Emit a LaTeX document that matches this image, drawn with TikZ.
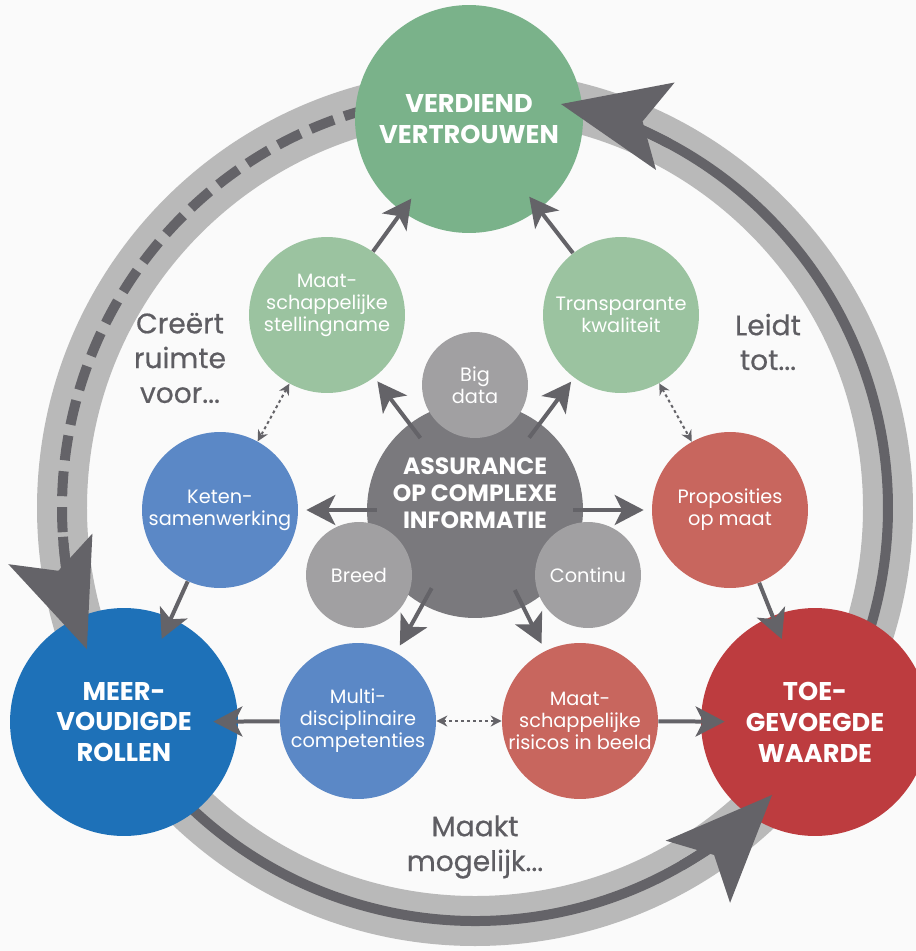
\documentclass[tikz,border=0pt]{standalone}
\usepackage{fontspec}
\setmainfont{Poppins}
\newfontfamily\sidefont{Poppins}[FakeBold=0.5]
\usetikzlibrary{shapes, arrows.meta, positioning}

\definecolor{backdrop}{HTML}{FAFAFA}
\definecolor{ringgray}{HTML}{B9B9B9}
\definecolor{arrowgray}{HTML}{646368}
\definecolor{labelgray}{HTML}{5E5D62}
\definecolor{hubgray}{HTML}{7A797D}
\definecolor{facetgray}{HTML}{A1A0A2}
\definecolor{goalgreen}{HTML}{7AB28A}
\definecolor{subgreen}{HTML}{9BC3A0}
\definecolor{goalblue}{HTML}{1E71B8}
\definecolor{subblue}{HTML}{5B88C6}
\definecolor{goalred}{HTML}{BD3C3F}
\definecolor{subred}{HTML}{C8665E}

\tikzstyle{bubble} = [circle, inner sep=0pt, text=white, align=center]
\tikzstyle{goal} = [bubble, minimum size=4.56cm, font=\bfseries\fontsize{14.6pt}{17.6pt}\selectfont]
\tikzstyle{sub} = [bubble, minimum size=3.12cm, font=\fontsize{11pt}{12.5pt}\selectfont]
\tikzstyle{facet} = [bubble, fill=facetgray, minimum size=2.12cm, font=\fontsize{11pt}{12.5pt}\selectfont]
\tikzstyle{hub} = [bubble, fill=hubgray, minimum size=4.32cm]
\tikzstyle{hubtext} = [text=white, align=center, font=\bfseries\fontsize{13.4pt}{15.3pt}\selectfont]
\tikzstyle{sidetext} = [text=labelgray, align=center, font=\sidefont\fontsize{16pt}{19.8pt}\selectfont]
\tikzstyle{arrow} = [draw, arrowgray, line width=0.08cm, -{Stealth[length=0.58cm, width=0.6cm, inset=0.15cm]}]
\tikzstyle{dotlink} = [draw, arrowgray, line width=0.04cm, dash pattern=on 0.06cm off 0.06cm,
    {Stealth[length=0.22cm, width=0.22cm]}-{Stealth[length=0.22cm, width=0.22cm]}]
\tikzstyle{loopline} = [draw, arrowgray, line width=0.2cm, line cap=butt]
\tikzstyle{loophead} = [loopline, -{Stealth[length=2.12cm, width=1.76cm, inset=0.45cm]}]

\begin{document}
\begin{tikzpicture}[x=0.02cm, y=0.02cm]
    \useasboundingbox (0,0) rectangle (916,-951);
    \clip (0,0) rectangle (916,-951);
    \fill[backdrop] (0,0) rectangle (916,-951);

    % outer ring, arcs run behind the big circles
    \coordinate (ringc) at (475,-508);
    \draw[ringgray, line width=1cm] (ringc) circle[radius=413];
    \path[loopline, dash pattern=on 0.5cm off 0.22cm] (ringc) ++(95:413) arc[start angle=95, end angle=188, radius=413];
    \path[loopline] (ringc) ++(215:413) arc[start angle=215, end angle=304, radius=413];
    \path[loopline] (ringc) ++(-30:413) arc[start angle=-30, end angle=66, radius=413];

    % big circles
    \node[goal, fill=goalgreen] (verdiend) at (469,-119) {VERDIEND\\VERTROUWEN};
    \node[goal, fill=goalblue] (rollen) at (124,-722) {MEER-\\VOUDIGDE\\ROLLEN};
    \node[goal, fill=goalred] (waarde) at (815,-722) {TOE-\\GEVOEGDE\\WAARDE};

    % heads of the ring arrows lie on top of the circles
    \path[loophead] (ringc) ++(184:413) arc[start angle=184, end angle=200, radius=413];
    \path[loophead] (ringc) ++(300:413) arc[start angle=300, end angle=316, radius=413];
    \path[loophead] (ringc) ++(62:413) arc[start angle=62, end angle=78, radius=413];

    % middle ring
    \node[sub, fill=subgreen] (stelling) at (327,-315) {Maat-\\schappelijke\\stellingname\\[-2pt]\strut};
    \node[sub, fill=subgreen] (kwaliteit) at (621,-315) {Transparante\\kwaliteit};
    \node[sub, fill=subblue] (keten) at (220,-510) {Keten-\\samenwerking};
    \node[sub, fill=subred] (proposities) at (730,-510) {Proposities\\op maat};
    \node[sub, fill=subblue] (competenties) at (358,-721) {Multi-\\disciplinaire\\competenties};
    \node[sub, fill=subred] (risicos) at (580,-721) {Maat-\\schappelijke\\risicos in beeld};

    % centre
    \node[hub] (hub) at (475,-510) {};
    \node[hubtext] (hubtxt) at (475,-493) {ASSURANCE\\OP COMPLEXE\\INFORMATIE};
    \node[facet] (bigdata) at (475,-385) {Big\\data};
    \node[facet] (breed) at (359,-575) {Breed};
    \node[facet] (continu) at (588,-575) {Continu};

    % loop labels
    \node[sidetext] (creeert) at (180,-358) {Creërt\\ruimte\\voor...};
    \node[sidetext] (leidt) at (768,-342) {Leidt\\tot...};
    \node[sidetext] (maakt) at (475,-847) {Maakt\\mogelijk...};

    % arrows
    \path[arrow, shorten <=-0.36cm, shorten >=0.1cm] (hub) -- (stelling);
    \path[arrow, shorten <=-0.36cm, shorten >=0.1cm] (hub) -- (kwaliteit);
    \path[arrow, shorten <=-0.2cm, shorten >=0.16cm] (hub) -- (keten);
    \path[arrow, shorten <=-0.2cm, shorten >=0.16cm] (hub) -- (proposities);
    \path[arrow, shorten <=-0.38cm, shorten >=0.16cm] (hub) -- (competenties);
    \path[arrow, shorten <=-0.38cm, shorten >=0.16cm] (hub) -- (risicos);

    \path[arrow, shorten >=-0.32cm] (stelling) -- (verdiend);
    \path[arrow, shorten >=-0.32cm] (kwaliteit) -- (verdiend);
    \path[arrow, shorten >=-0.46cm] (keten) -- (rollen);
    \path[arrow, shorten >=-0.5cm] (competenties) -- (rollen);
    \path[arrow, shorten >=-0.5cm] (proposities) -- (waarde);
    \path[arrow, shorten >=-0.48cm] (risicos) -- (waarde);

    \path[dotlink] (stelling) -- (keten);
    \path[dotlink] (kwaliteit) -- (proposities);
    \path[dotlink] (competenties) -- (risicos);
\end{tikzpicture}
\end{document}
